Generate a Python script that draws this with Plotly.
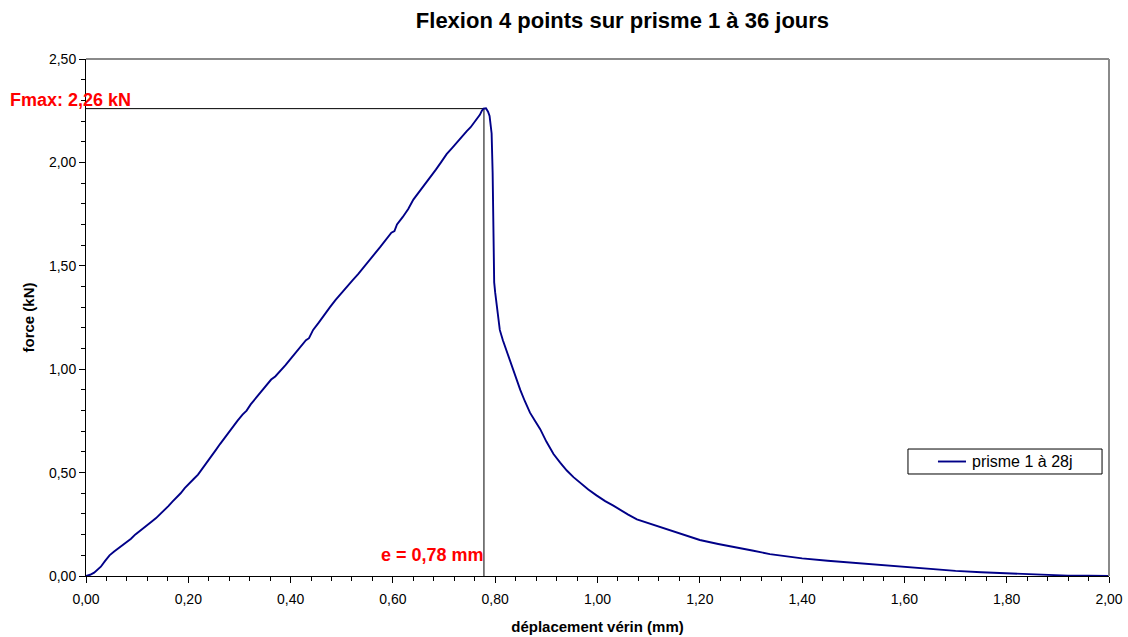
import plotly.graph_objects as go

disp = [0.000, 0.008, 0.016, 0.022, 0.029, 0.037, 0.046, 0.055, 0.063, 0.072,
        0.080, 0.088, 0.096, 0.104, 0.112, 0.120, 0.128, 0.137, 0.145, 0.153,
        0.161, 0.169, 0.177, 0.185, 0.193, 0.202, 0.210, 0.219, 0.228, 0.237,
        0.245, 0.254, 0.262, 0.270, 0.280, 0.288, 0.296, 0.306, 0.314, 0.322,
        0.332, 0.340, 0.350, 0.362, 0.370, 0.379, 0.390, 0.400, 0.410, 0.420,
        0.430, 0.436, 0.444, 0.455, 0.466, 0.477, 0.488, 0.498, 0.510, 0.521,
        0.532, 0.543, 0.554, 0.565, 0.575, 0.586, 0.597, 0.603, 0.608, 0.619,
        0.630, 0.640, 0.651, 0.662, 0.673, 0.684, 0.694, 0.705, 0.716, 0.726,
        0.735, 0.744, 0.752, 0.758, 0.764, 0.770, 0.774, 0.777, 0.782, 0.786,
        0.789, 0.791, 0.793, 0.795, 0.796, 0.797, 0.798, 0.800, 0.806, 0.809,
        0.815, 0.822, 0.828, 0.835, 0.842, 0.849, 0.858, 0.868, 0.878, 0.888,
        0.900, 0.914, 0.927, 0.940, 0.953, 0.966, 0.982, 0.998, 1.015, 1.031,
        1.044, 1.060, 1.077, 1.100, 1.122, 1.160, 1.200, 1.236, 1.272, 1.305,
        1.337, 1.370, 1.400, 1.450, 1.500, 1.550, 1.600, 1.650, 1.700, 1.750,
        1.800, 1.850, 1.885, 1.920, 1.960, 2.000]
force = [0.000, 0.006, 0.016, 0.028, 0.045, 0.072, 0.100, 0.118, 0.132, 0.150,
         0.165, 0.180, 0.200, 0.215, 0.228, 0.245, 0.262, 0.280, 0.298, 0.318,
         0.338, 0.360, 0.378, 0.400, 0.425, 0.450, 0.468, 0.490, 0.520, 0.548,
         0.578, 0.610, 0.638, 0.665, 0.700, 0.722, 0.750, 0.780, 0.800, 0.830,
         0.860, 0.885, 0.910, 0.950, 0.965, 0.988, 1.020, 1.050, 1.080, 1.110,
         1.140, 1.150, 1.190, 1.225, 1.265, 1.300, 1.335, 1.365, 1.400, 1.430,
         1.460, 1.495, 1.525, 1.560, 1.590, 1.625, 1.660, 1.668, 1.700, 1.735,
         1.775, 1.820, 1.855, 1.890, 1.930, 1.965, 2.000, 2.040, 2.070, 2.100,
         2.125, 2.150, 2.170, 2.190, 2.205, 2.230, 2.250, 2.260, 2.262, 2.245,
         2.225, 2.180, 2.140, 1.950, 1.820, 1.600, 1.420, 1.370, 1.240, 1.190,
         1.140, 1.090, 1.045, 1.000, 0.950, 0.900, 0.845, 0.790, 0.750, 0.710,
         0.650, 0.590, 0.548, 0.510, 0.478, 0.450, 0.418, 0.390, 0.362, 0.340,
         0.320, 0.297, 0.274, 0.255, 0.238, 0.205, 0.174, 0.155, 0.139, 0.122,
         0.106, 0.095, 0.085, 0.074, 0.064, 0.053, 0.042, 0.033, 0.025, 0.018,
         0.013, 0.008, 0.005, 0.002, 0.001, 0.000]

fmax = 2.26
e_at_fmax = 0.778

title_text = "Flexion 4 points sur prisme 1 à 36 jours"
series_name = "prisme 1 à 28j"
x_title = "déplacement vérin (mm)"
y_title = "force (kN)"
fmax_label = "Fmax: 2,26 kN"
e_label = "e = 0,78 mm"

line_color = "#000088"

fig = go.Figure()
fig.add_trace(go.Scatter(x=[0, e_at_fmax], y=[fmax, fmax], mode="lines",
                         line=dict(color="black", width=1), showlegend=False, hoverinfo="skip"))
fig.add_trace(go.Scatter(x=[e_at_fmax, e_at_fmax], y=[0, fmax], mode="lines",
                         line=dict(color="black", width=1), showlegend=False, hoverinfo="skip"))
fig.add_trace(go.Scatter(x=disp, y=force, mode="lines", name=series_name,
                         line=dict(color=line_color, width=1.9), showlegend=False))

font = "Liberation Sans, Arial, sans-serif"

# legend box (manual, to reproduce padding of the original)
lx0, lx1, ly0, ly1 = 0.8035, 0.9932, 0.1973, 0.2456
lmid = (ly0 + ly1) / 2

fig.update_layout(
    width=1128, height=637,
    margin=dict(l=86, r=19, t=59, b=61, autoexpand=False),
    paper_bgcolor="white", plot_bgcolor="white",
    separators=", ",
    font=dict(family=font, size=14, color="black"),
    showlegend=False,
    title=dict(text="<b>" + title_text + "</b>", x=0.5244, xref="paper", xanchor="center",
               y=0.968, yanchor="middle", font=dict(size=22)),
    xaxis=dict(range=[0, 2], dtick=0.2, tick0=0, tickformat=".2f", automargin=False,
               showgrid=False, zeroline=False, showline=True, linecolor="black", linewidth=1,
               ticks="outside", ticklen=6, tickcolor="black", ticklabelstandoff=4,
               minor=dict(dtick=0.04, ticks="outside", ticklen=4, tickcolor="black"),
               title=dict(text="<b>" + x_title + "</b>", font=dict(size=15), standoff=15)),
    yaxis=dict(range=[0, 2.5], dtick=0.5, tick0=0, tickformat=".2f", automargin=False,
               showgrid=False, zeroline=False, showline=True, linecolor="black", linewidth=1,
               ticks="outside", ticklen=6, tickcolor="black",
               minor=dict(dtick=0.1, ticks="outside", ticklen=4, tickcolor="black"),
               title=dict(text="<b>" + y_title + "</b>", font=dict(size=15), standoff=10)),
    shapes=[
        dict(type="line", xref="paper", yref="paper", x0=0, x1=1, y0=1, y1=1,
             line=dict(color="#8a8a8a", width=2)),
        dict(type="line", xref="paper", yref="paper", x0=1, x1=1, y0=0, y1=1,
             line=dict(color="#8a8a8a", width=2)),
        dict(type="rect", xref="paper", yref="paper", x0=lx0, x1=lx1, y0=ly0, y1=ly1,
             line=dict(color="black", width=1), fillcolor="white"),
        dict(type="line", xref="paper", yref="paper", x0=0.8328, x1=0.8602, y0=lmid, y1=lmid,
             line=dict(color=line_color, width=1.9)),
    ],
    annotations=[
        dict(x=-0.0762, y=0.9207, xref="paper", yref="paper", text="<b>" + fmax_label + "</b>",
             showarrow=False, xanchor="left", yanchor="middle",
             font=dict(color="red", size=18)),
        dict(x=e_at_fmax, y=0.0406, xref="x", yref="paper", text="<b>" + e_label + "</b>",
             showarrow=False, xanchor="right", yanchor="middle", xshift=2,
             font=dict(color="red", size=18)),
        dict(x=0.8641, y=lmid, xref="paper", yref="paper", text=series_name,
             showarrow=False, xanchor="left", yanchor="middle",
             font=dict(size=16)),
    ],
)

fig.write_html("out.html")
